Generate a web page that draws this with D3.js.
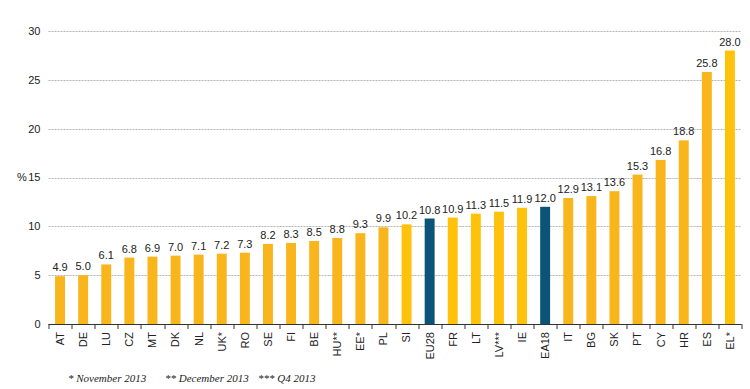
<!DOCTYPE html>
<html lang="en">
  <head>
    <meta charset="UTF-8" />
    <title>Unemployment rates</title>
    <script src="https://cdn.jsdelivr.net/npm/d3@7"></script>
    <style>
      body { margin: 0; background: #fff; }
      svg { display: block; font-family: Arial, 'Liberation Sans', sans-serif; }
    </style>
  </head>
  <body>
    <div id="chart_svg"></div>
    <script>
      const categories = ['AT', 'DE', 'LU', 'CZ', 'MT', 'DK', 'NL', 'UK*', 'RO', 'SE', 'FI', 'BE', 'HU**', 'EE*', 'PL', 'SI', 'EU28', 'FR', 'LT', 'LV***', 'IE', 'EA18', 'IT', 'BG', 'SK', 'PT', 'CY', 'HR', 'ES', 'EL*']
      const values = [4.9, 5.0, 6.1, 6.8, 6.9, 7.0, 7.1, 7.2, 7.3, 8.2, 8.3, 8.5, 8.8, 9.3, 9.9, 10.2, 10.8, 10.9, 11.3, 11.5, 11.9, 12.0, 12.9, 13.1, 13.6, 15.3, 16.8, 18.8, 25.8, 28.0]
      const aggregates = ['EU28', 'EA18']
      const brightBars = ['SI', 'FR', 'LT', 'LV***', 'IE', 'EL*']
      const yTicks = [0, 5, 10, 15, 20, 25, 30]
      const footnotes = ['* November 2013', '** December 2013', '*** Q4 2013']

      const width = 750
      const height = 389
      const ml = 48.5, mr = 8.5, mt = 31, mb = 65
      const iw = width - ml - mr
      const ih = height - mt - mb

      const svg = d3.select('#chart_svg')
        .append('svg')
        .attr('width', width)
        .attr('height', height)

      const view = svg.append('g').attr('transform', `translate(${ml},${mt})`)

      const x = d3.scaleBand().domain(categories).range([0, iw]).paddingInner(0.57).paddingOuter(0.285)
      const y = d3.scaleLinear().domain([0, 30]).range([ih, 0])

      const barColor = c =>
        aggregates.includes(c) ? '#0b5478' : brightBars.includes(c) ? '#ffc20a' : '#f9b51c'

      // grid
      view.append('g')
        .selectAll('line')
        .data(yTicks.filter(d => d > 0))
        .join('line')
        .attr('x1', 0)
        .attr('x2', iw)
        .attr('y1', d => Math.round(y(d)) + 0.5)
        .attr('y2', d => Math.round(y(d)) + 0.5)
        .attr('stroke', '#b5b5b5')
        .attr('stroke-dasharray', '2,1')

      // y axis labels
      view.append('g')
        .selectAll('text')
        .data(yTicks)
        .join('text')
        .attr('x', -8)
        .attr('y', d => y(d))
        .attr('dy', '0.35em')
        .attr('text-anchor', 'end')
        .attr('font-size', 11)
        .attr('fill', '#222')
        .text(d => d)

      svg.append('text')
        .attr('x', 17)
        .attr('y', y(15) + mt)
        .attr('dy', '0.35em')
        .attr('font-size', 11)
        .attr('fill', '#222')
        .text('%')

      // bars
      const data = categories.map((c, i) => ({ c, v: values[i] }))
      view.append('g')
        .selectAll('rect')
        .data(data)
        .join('rect')
        .attr('x', d => x(d.c))
        .attr('width', x.bandwidth())
        .attr('y', d => y(d.v))
        .attr('height', d => y(0) - y(d.v))
        .attr('fill', d => barColor(d.c))

      // value labels
      view.append('g')
        .selectAll('text')
        .data(data)
        .join('text')
        .attr('x', d => x(d.c) + x.bandwidth() / 2)
        .attr('y', d => y(d.v) - 5)
        .attr('text-anchor', 'middle')
        .attr('font-size', 11)
        .attr('fill', '#222')
        .text(d => d.v.toFixed(1))

      // x axis
      const xAxis = view.append('g').attr('transform', `translate(0,${ih})`)
      xAxis.append('line')
        .attr('x1', 0).attr('x2', iw)
        .attr('y1', 0.5).attr('y2', 0.5)
        .attr('stroke', '#333')
      xAxis.selectAll('.tick')
        .data(d3.range(categories.length + 1))
        .join('line')
        .attr('x1', i => Math.round(i * x.step()) + 0.5)
        .attr('x2', i => Math.round(i * x.step()) + 0.5)
        .attr('y1', 0)
        .attr('y2', 5)
        .attr('stroke', '#333')
      xAxis.selectAll('text')
        .data(categories)
        .join('text')
        .attr('transform', d => `translate(${x(d) + x.bandwidth() / 2},8) rotate(-90)`)
        .attr('dy', '0.35em')
        .attr('text-anchor', 'end')
        .attr('font-size', 11)
        .attr('fill', '#222')
        .text(d => d)

      // footnotes
      const noteX = [68, 165, 258]
      svg.append('g')
        .attr('font-family', "'Liberation Serif', 'Times New Roman', serif")
        .attr('font-style', 'italic')
        .attr('font-size', 11)
        .attr('fill', '#222')
        .selectAll('text')
        .data(footnotes)
        .join('text')
        .attr('x', (d, i) => noteX[i])
        .attr('y', 382)
        .text(d => d)
    </script>
  </body>
</html>
